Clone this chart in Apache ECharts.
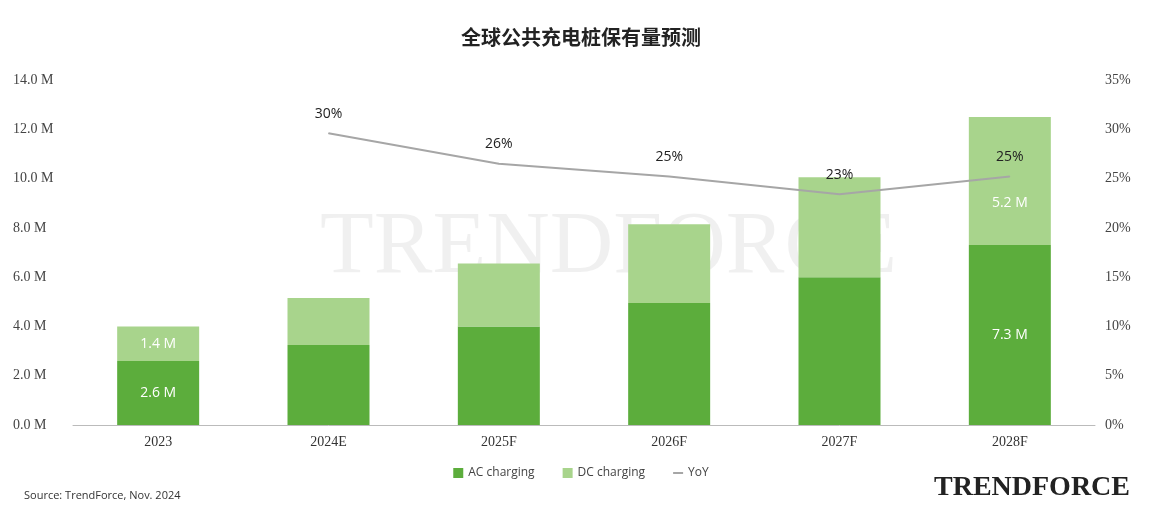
<!DOCTYPE html>
<html><head><meta charset="utf-8">
<script src="https://cdn.jsdelivr.net/npm/echarts@6/dist/echarts.min.js"></script>
<style>html,body{margin:0;background:#fff}#c{width:1162px;height:530px}</style>
</head><body><div id="c"></div>
<script>
var years = ['2023', '2024E', '2025F', '2026F', '2027F', '2028F'];
var acVals = [2.6, 3.25, 4.0, 4.95, 6.0, 7.3];
var dcVals = [1.4, 1.9, 2.55, 3.2, 4.05, 5.2];
var yoyVals = [null, 29.6, 26.5, 25.2, 23.4, 25.2];
var yoyText = ['', '30%', '26%', '25%', '23%', '25%'];
var showIn = [true, false, false, false, false, true];

function inLabel(vals, lastOffset){
    return vals.map(function(v, i){
        var lbl = {show: showIn[i]};
        if (i === vals.length - 1 && lastOffset) lbl.offset = [0, lastOffset];
        return {value: v, label: lbl};
    });
}

var option = {
    title: {text: '全球公共充电桩保有量预测', left: 'center', top: 22,
        textStyle: {fontFamily: 'Noto Sans CJK SC', fontSize: 20, fontWeight: 'bold', color: '#222'}},
    graphic: [
        {type: 'text', left: 24, top: 490, style: {text: 'Source: TrendForce, Nov. 2024', font: '11px "Open Sans"', fill: '#333'}},
        {type: 'text', right: 32, top: 474, style: {text: 'TRENDFORCE', font: 'bold 28px "Liberation Serif"', fill: '#222'}},
        {type: 'text', left: 320, top: 205, z: -1, style: {text: 'TRENDFORCE', font: '88px "Liberation Serif"', fill: 'rgba(0,0,0,0.06)'}}
    ],
    legend: {bottom: 46, itemWidth: 10, itemHeight: 10, itemGap: 28,
        textStyle: {fontFamily: 'Open Sans', fontSize: 12, color: '#444'},
        data: [{name: 'AC charging', icon: 'rect'}, {name: 'DC charging', icon: 'rect'},
            {name: 'YoY', icon: 'path://M0,4L10,4L10,6L0,6Z'}]},
    grid: {left: 73, right: 67, top: 80, bottom: 105},
    xAxis: {type: 'category', data: years,
        axisLine: {lineStyle: {color: '#bbb'}}, axisTick: {show: false},
        axisLabel: {fontFamily: 'Liberation Serif', fontSize: 14, color: '#333', margin: 10}},
    yAxis: [
        {type: 'value', min: 0, max: 14, interval: 2, splitLine: {show: false},
            axisLabel: {formatter: function(v){ return v.toFixed(1) + ' M'; }, fontFamily: 'Liberation Serif', fontSize: 14, color: '#444', margin: 60, align: 'left'}},
        {type: 'value', min: 0, max: 35, interval: 5, splitLine: {show: false},
            axisLabel: {formatter: '{value}%', fontFamily: 'Liberation Serif', fontSize: 14, color: '#444', margin: 10}}
    ],
    series: [
        {name: 'AC charging', type: 'bar', stack: 't', barWidth: 82, data: inLabel(acVals),
            itemStyle: {color: '#5cad3c'},
            label: {position: 'inside', color: '#fff', fontFamily: 'Open Sans', fontSize: 14, formatter: '{c} M'}},
        {name: 'DC charging', type: 'bar', stack: 't', data: inLabel(dcVals, 22),
            itemStyle: {color: '#a8d48c'},
            label: {position: 'inside', color: '#fff', fontFamily: 'Open Sans', fontSize: 14, formatter: '{c} M'}},
        {name: 'YoY', type: 'line', yAxisIndex: 1, data: yoyVals, symbol: 'circle', symbolSize: 1, showSymbol: true,
            lineStyle: {color: '#a6a6a6', width: 2}, itemStyle: {color: '#a6a6a6'},
            label: {show: true, position: 'top', distance: 12, color: '#222', fontFamily: 'Open Sans', fontSize: 14,
                formatter: function(p){ return yoyText[p.dataIndex]; }}}
    ]
};
echarts.init(document.getElementById('c')).setOption(option);
</script></body></html>
